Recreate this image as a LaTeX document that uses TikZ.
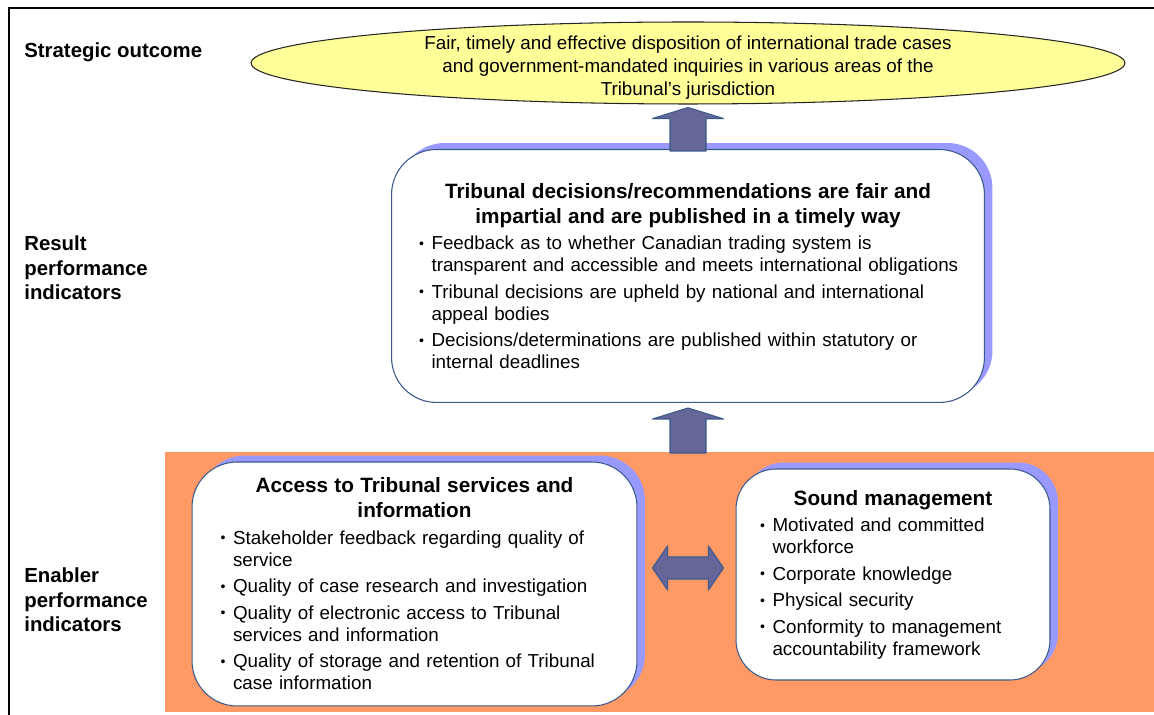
\documentclass[tikz,border=0pt]{standalone}
\usepackage{fontspec}
\setmainfont{Liberation Sans}
\usetikzlibrary{shapes.geometric,shadows,calc}

\definecolor{orangebg}{HTML}{FF9966}
\definecolor{lavender}{HTML}{9999FF}
\definecolor{boxline}{HTML}{3A5A8A}
\definecolor{arrowfill}{HTML}{666699}
\definecolor{goalfill}{HTML}{FFFF99}

\newcommand{\boxtitle}[1]{{\centering\fontsize{11.8}{14.2}\selectfont\bfseries #1\par}}
\newcommand{\bul}[1]{\par\vspace{2.6pt}\rightskip=-0.5cm plus 1fil\hangindent=0.25cm\hangafter=1\noindent\makebox[0.25cm][l]{\raisebox{0.15ex}{\fontsize{8}{8}\selectfont\textbullet}}#1\par}
% block arrow pointing up, from foot #1 to tip #2
\newcommand{\fatup}[2]{\draw[fatarrow] ($(#1)+(-18,0)$) -- ($(#2)+(-18,11)$) -- ($(#2)+(-35.5,11)$) -- (#2) -- ($(#2)+(35.5,11)$) -- ($(#2)+(18,11)$) -- ($(#1)+(18,0)$) -- cycle;}

\begin{document}
\begin{tikzpicture}[x=0.02cm, y=-0.02cm,
  lbl/.style={font=\fontsize{11.6}{13.9}\selectfont\bfseries, inner sep=0, anchor=west, align=left},
  box/.style={draw=boxline, fill=white, line width=0.6pt, rounded corners=0.9cm, align=left, inner sep=0,
    font=\fontsize{10.7}{12.5}\selectfont,
    drop shadow={shadow xshift=0.16cm, shadow yshift=0.13cm, fill=lavender, opacity=1}},
  goal/.style={ellipse, draw=gray!30!black, fill=goalfill, line width=0.6pt,
    minimum width=17.48cm, minimum height=1.64cm, inner sep=0},
  fatarrow/.style={fill=arrowfill, draw=boxline, line width=0.6pt, line join=round}]

  \useasboundingbox (0,0) rectangle (1154,715);
  \draw[line width=1.6pt] (9,715) -- (9,8) -- (1154,8) ;  % frame, top and left
  \fill[orangebg] (165,452) rectangle (1154,712) ;          % enabler band

  % row labels
  \node[lbl] (so) at (24,52) {Strategic outcome};
  \node[lbl] (rpi) at (24,268) {Result\\performance\\indicators};
  \node[lbl] (epi) at (24,600) {Enabler\\performance\\indicators};

  % strategic outcome
  \node[goal] (goal) at (688,63) {};
  \node[font=\fontsize{10.7}{13.1}\selectfont, align=center, inner sep=0] (goaltxt) at ($(goal.center)+(0,5)$)
    {Fair, timely and effective disposition of international trade cases\\
     and government-mandated inquiries in various areas of the\\
     Tribunal's jurisdiction};

  % result box
  \node[box, minimum width=11.86cm, minimum height=5.06cm, text width=10.76cm] (mid) at (688,276) {
    \boxtitle{Tribunal decisions/recommendations are fair and\\impartial and are published in a timely way}
    \bul{Feedback as to whether Canadian trading system is\newline transparent and accessible and meets international obligations}
    \bul{Tribunal decisions are upheld by national and international\newline appeal bodies}
    \bul{Decisions/determinations are published within statutory or\newline internal deadlines}
  };

  % enabler boxes
  \node[box, minimum width=8.9cm, minimum height=4.88cm, text width=7.76cm] (acc) at (414.5,584) {
    \boxtitle{Access to Tribunal services and\\information}
    \bul{Stakeholder feedback regarding quality of\newline service}
    \bul{Quality of case research and investigation}
    \bul{Quality of electronic access to Tribunal\newline services and information}
    \bul{Quality of storage and retention of Tribunal\newline case information}
  };
  \node[box, minimum width=6.28cm, minimum height=4.22cm, text width=5.32cm, rounded corners=0.8cm] (snd) at (893,574.5) {
    \boxtitle{Sound management}
    \bul{Motivated and committed\newline workforce}
    \bul{Corporate knowledge}
    \bul{Physical security}
    \bul{Conformity to management\newline accountability framework}
  };

  % arrows
  \coordinate (tip1) at ($(goal.south)+(0,3)$);
  \coordinate (foot1) at ($(mid.north)+(0,2)$);
  \fatup{foot1}{tip1}
  \coordinate (tip2) at ($(mid.south)+(0,5)$);
  \coordinate (foot2) at (688,453);  % top of the band
  \fatup{foot2}{tip2}

  \coordinate (ltip) at ($(acc.east)+(15,-16)$);
  \coordinate (rtip) at ($(snd.west)+(-12,-6.5)$);
  \draw[fatarrow] (ltip) -- ++(15,-22) -- ++(0,11) -- ($(rtip)+(-15,-11)$) -- ++(0,-11) -- (rtip)
    -- ++(-15,22) -- ++(0,-11) -- ($(ltip)+(15,11)$) -- ++(0,11) -- cycle;
\end{tikzpicture}
\end{document}
